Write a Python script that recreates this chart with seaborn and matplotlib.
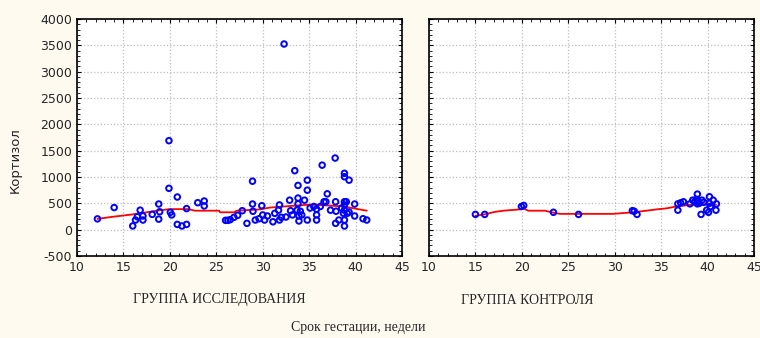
import matplotlib
matplotlib.use("Agg")
import matplotlib.pyplot as plt
import seaborn as sns
import pandas as pd
from matplotlib.ticker import MultipleLocator

sns.set_style("white")
plt.rcParams['font.family'] = ['DejaVu Sans']
plt.rcParams['axes.unicode_minus'] = False

# группа исследования
study_week = [12.2, 14, 16, 16.3, 16.5, 16.8, 17.1, 17.1, 18.1, 18.8, 18.8, 18.9,
              19.9, 19.9, 20.05, 20.2, 20.8, 20.8, 21.3, 21.8, 21.8, 23.0, 23.7, 23.7,
              26.0, 26.25, 26.5, 26.9, 27.3, 27.8, 28.3, 28.9, 28.9, 28.95, 29.2, 29.6,
              29.9, 30.0, 30.2, 30.5, 31.1, 31.3, 31.7, 31.8, 31.8, 32.0, 32.3, 32.5,
              32.9, 33.0, 33.2, 33.45, 33.7, 33.8, 33.8, 33.8, 33.9, 33.9, 34.05, 34.2,
              34.5, 34.8, 34.8, 34.8, 35.1, 35.5, 35.8, 35.8, 35.8, 36.2, 36.4, 36.6,
              36.8, 36.95, 37.3, 37.8, 37.85, 37.85, 37.9, 38.2, 38.5, 38.7, 38.8, 38.8,
              38.8, 38.8, 38.8, 38.8, 38.8, 39.0, 39.1, 39.3, 39.3, 39.9, 39.9, 40.8, 41.2]
study_cort = [205, 420, 70, 183, 245, 370, 183, 260, 290, 487, 200, 340,
              1690, 785, 330, 280, 620, 100, 70, 100, 400, 512, 544, 450,
              177, 177, 190, 234, 272, 360, 120, 920, 487, 350, 183, 208,
              455, 280, 183, 260, 150, 310, 370, 470, 183, 234, 3525, 240,
              560, 360, 280, 1120, 370, 840, 600, 490, 260, 165, 350, 280,
              560, 940, 750, 183, 410, 440, 390, 280, 183, 440, 1225, 530,
              530, 680, 370, 1360, 530, 120, 350, 183, 410, 310, 1070, 1005,
              530, 470, 370, 183, 69, 530, 310, 940, 335, 487, 260, 208, 183]
study_fit_week = [12.2, 13.85, 16.0, 19.0, 20.0, 22.0, 22.7, 25.3, 25.4, 26.9, 27.2,
                  29.7, 30.8, 33.0, 35.0, 37.0, 38.7, 39.8, 41.2]
study_fit_cort = [205, 245, 290, 370, 390, 390, 360, 360, 330, 330, 360,
                  385, 420, 450, 475, 460, 440, 405, 360]

# группа контроля
ctrl_week = [15, 16, 19.95, 20.2, 23.4, 26.1, 31.9, 32.1, 32.4,
             36.8, 36.8, 37.1, 37.4, 38.1, 38.4, 38.6, 38.8, 38.9, 38.9, 39.0, 39.1,
             39.3, 39.4, 39.6, 39.9, 40.1, 40.2, 40.2, 40.3, 40.6, 40.9, 40.95]
ctrl_cort = [290, 290, 440, 460, 330, 290, 360, 350, 290,
             490, 370, 510, 530, 490, 560, 530, 575, 675, 490, 540, 500,
             290, 560, 520, 370, 330, 500, 625, 440, 560, 370, 490]
ctrl_fit_week = [15, 16, 17, 18, 19.8, 20.2, 20.7, 22.5, 23.2, 24.1, 29.8, 32.0,
                 33.4, 34.5, 35.6, 36.6, 38.1, 40.6, 40.9]
ctrl_fit_cort = [265, 290, 335, 360, 385, 400, 360, 360, 330, 300, 300, 330,
                 360, 385, 405, 440, 470, 490, 475]

groups = ["ГРУППА ИССЛЕДОВАНИЯ", "ГРУППА КОНТРОЛЯ"]
group_x = [219, 527]  # label centres, px

fig = plt.figure(figsize=(7.6, 3.38), dpi=100, facecolor='#fffaf0')
ax1 = fig.add_axes([77/760, 1-256/338, 325/760, 237/338])
ax2 = fig.add_axes([429/760, 1-256/338, 325/760, 237/338])

panels = [
    (ax1, study_week, study_cort, study_fit_week, study_fit_cort),
    (ax2, ctrl_week, ctrl_cort, ctrl_fit_week, ctrl_fit_cort),
]

for i, (ax, wk, ct, fw, fc) in enumerate(panels):
    pts = pd.DataFrame({'week': wk, 'cort': ct})
    fit = pd.DataFrame({'week': fw, 'cort': fc})
    ax.set_facecolor('white')
    sns.lineplot(data=fit, x='week', y='cort', color='red', lw=1.3,
                 ax=ax, zorder=2, estimator=None, sort=True)
    sns.scatterplot(data=pts, x='week', y='cort', ax=ax, s=16,
                    facecolors='none', edgecolor='#0000ff', linewidth=1.4,
                    zorder=3)
    ax.set_xlim(10, 45)
    ax.set_ylim(-500, 4000)
    ax.xaxis.set_major_locator(MultipleLocator(5))
    ax.yaxis.set_major_locator(MultipleLocator(500))
    ax.xaxis.set_minor_locator(MultipleLocator(1))
    ax.yaxis.set_minor_locator(MultipleLocator(100))
    ax.grid(True, which='major', color='#bdbdbd', linestyle=':', lw=0.9)
    ax.tick_params(which='both', direction='in', top=True, right=True,
                   bottom=True, left=True, labelsize=9, color='black')
    ax.tick_params(which='major', length=3)
    ax.tick_params(which='minor', length=2)
    for sp in ax.spines.values():
        sp.set_color('black')
        sp.set_linewidth(1.2)
    ax.set_xlabel('')
    ax.set_ylabel('')
    if i > 0:
        ax.set_yticklabels([])
    fig.text(group_x[i]/760, 1 - 300/338, groups[i], ha='center', va='center',
             family='Liberation Serif', fontsize=10)

fig.text(15/760, 1 - 160/338, 'Кортизол', rotation=90, ha='center',
         va='center', fontsize=9.5)
fig.text(358/760, 1 - 327/338, 'Срок гестации, недели', ha='center',
         va='center', family='Liberation Serif', fontsize=10)

fig.savefig('out.png', dpi=100, facecolor=fig.get_facecolor())
